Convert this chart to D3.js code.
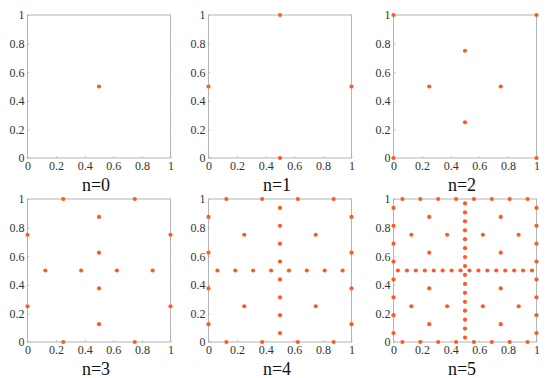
<!DOCTYPE html>
<html>
<head>
<meta charset="utf-8">
<style>
  body { margin: 0; background: #fff; }
  .frame { fill: none; stroke: #b4b4b4; stroke-width: 1; }
  .tick line { stroke: #c8c8c8; }
  svg text { font-family: 'Liberation Serif', 'DejaVu Serif', serif !important; }
</style>
<script src="https://d3js.org/d3.v7.min.js"></script>
</head>
<body>
<svg width="550" height="378"></svg>
<script>
  const titles = ['n=0', 'n=1', 'n=2', 'n=3', 'n=4', 'n=5'];
  const tickValues = [0, 0.2, 0.4, 0.6, 0.8, 1];

  const n0Points = [[0.5, 0.5]];
  const n1Points = [[0.5, 1], [0.5, 0], [0, 0.5], [1, 0.5]];
  const n2Points = [
    [0, 0], [0, 1], [1, 0], [1, 1],
    [0.5, 0.75], [0.5, 0.25], [0.25, 0.5], [0.75, 0.5]
  ];
  const n3Points = [
    [0.25, 1], [0.75, 1], [0.25, 0], [0.75, 0],
    [0, 0.25], [0, 0.75], [1, 0.25], [1, 0.75],
    [0.5, 0.125], [0.5, 0.375], [0.5, 0.625], [0.5, 0.875],
    [0.125, 0.5], [0.375, 0.5], [0.625, 0.5], [0.875, 0.5]
  ];
  const n4Points = [
    [0.125, 1], [0.375, 1], [0.625, 1], [0.875, 1],
    [0.125, 0], [0.375, 0], [0.625, 0], [0.875, 0],
    [0, 0.125], [0, 0.375], [0, 0.625], [0, 0.875],
    [1, 0.125], [1, 0.375], [1, 0.625], [1, 0.875],
    [0.5, 0.0625], [0.5, 0.1875], [0.5, 0.3125], [0.5, 0.4375],
    [0.5, 0.5625], [0.5, 0.6875], [0.5, 0.8125], [0.5, 0.9375],
    [0.0625, 0.5], [0.1875, 0.5], [0.3125, 0.5], [0.4375, 0.5],
    [0.5625, 0.5], [0.6875, 0.5], [0.8125, 0.5], [0.9375, 0.5],
    [0.25, 0.25], [0.25, 0.75], [0.75, 0.25], [0.75, 0.75]
  ];
  const n5Points = [
    // edges
    [0.0625, 1], [0.1875, 1], [0.3125, 1], [0.4375, 1], [0.5625, 1], [0.6875, 1], [0.8125, 1], [0.9375, 1],
    [0.0625, 0], [0.1875, 0], [0.3125, 0], [0.4375, 0], [0.5625, 0], [0.6875, 0], [0.8125, 0], [0.9375, 0],
    [0, 0.0625], [0, 0.1875], [0, 0.3125], [0, 0.4375], [0, 0.5625], [0, 0.6875], [0, 0.8125], [0, 0.9375],
    [1, 0.0625], [1, 0.1875], [1, 0.3125], [1, 0.4375], [1, 0.5625], [1, 0.6875], [1, 0.8125], [1, 0.9375],
    // vertical cross
    [0.5, 0.03125], [0.5, 0.09375], [0.5, 0.15625], [0.5, 0.21875], [0.5, 0.28125], [0.5, 0.34375], [0.5, 0.40625], [0.5, 0.46875],
    [0.5, 0.53125], [0.5, 0.59375], [0.5, 0.65625], [0.5, 0.71875], [0.5, 0.78125], [0.5, 0.84375], [0.5, 0.90625], [0.5, 0.96875],
    // horizontal cross
    [0.03125, 0.5], [0.09375, 0.5], [0.15625, 0.5], [0.21875, 0.5], [0.28125, 0.5], [0.34375, 0.5], [0.40625, 0.5], [0.46875, 0.5],
    [0.53125, 0.5], [0.59375, 0.5], [0.65625, 0.5], [0.71875, 0.5], [0.78125, 0.5], [0.84375, 0.5], [0.90625, 0.5], [0.96875, 0.5],
    // interior
    [0.25, 0.125], [0.25, 0.375], [0.25, 0.625], [0.25, 0.875],
    [0.75, 0.125], [0.75, 0.375], [0.75, 0.625], [0.75, 0.875],
    [0.125, 0.25], [0.375, 0.25], [0.625, 0.25], [0.875, 0.25],
    [0.125, 0.75], [0.375, 0.75], [0.625, 0.75], [0.875, 0.75]
  ];

  const allPoints = [n0Points, n1Points, n2Points, n3Points, n4Points, n5Points];

  // layout
  const lefts = [27.5, 208.5, 393.5];
  const tops = [15, 199];
  const size = 143;

  const svg = d3.select('svg');
  const fmt = d => d === 0 || d === 1 ? d3.format('d')(d) : d3.format('.1f')(d);

  allPoints.forEach((pts, i) => {
    const col = i % 3, row = Math.floor(i / 3);
    const g = svg.append('g')
      .attr('transform', `translate(${lefts[col]},${tops[row]})`);

    const x = d3.scaleLinear().domain([0, 1]).range([0, size]);
    const y = d3.scaleLinear().domain([0, 1]).range([size, 0]);

    const styleAxis = a => {
      a.select('.domain').remove();
      a.attr('font-size', 12);
      a.selectAll('text').attr('fill', '#333');
    };

    g.append('g')
      .attr('transform', `translate(0,${size})`)
      .call(d3.axisBottom(x).tickValues(tickValues).tickFormat(fmt).tickSize(-2).tickPadding(3))
      .call(styleAxis);

    g.append('g')
      .call(d3.axisLeft(y).tickValues(tickValues).tickFormat(fmt).tickSize(-2).tickPadding(3))
      .call(styleAxis);

    g.append('rect')
      .classed('frame', true)
      .attr('x', 0).attr('y', 0)
      .attr('width', size).attr('height', size);

    g.selectAll('circle')
      .data(pts)
      .enter()
      .append('circle')
      .attr('fill', '#ff5a24')
      .attr('cx', d => x(d[0]))
      .attr('cy', d => y(d[1]))
      .attr('r', 2.1);

    g.append('text')
      .attr('x', size / 2 - 3)
      .attr('y', size + 33)
      .attr('text-anchor', 'middle')
      .attr('font-size', 18)
      .attr('fill', '#111')
      .text(titles[i]);
  });
</script>
</body>
</html>
